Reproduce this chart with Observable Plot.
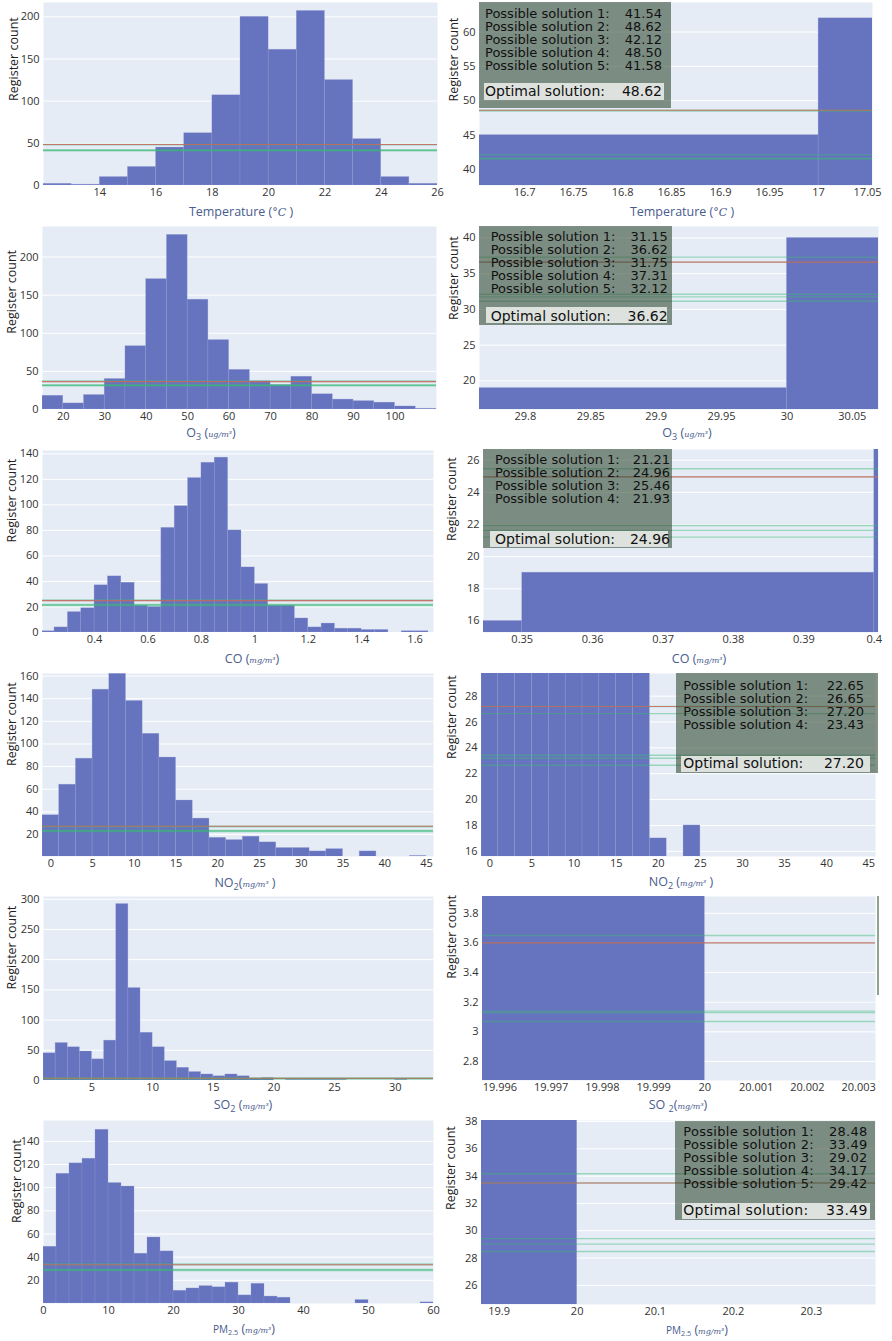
<!DOCTYPE html>
<html><head><meta charset="utf-8">
<script src="https://cdn.jsdelivr.net/npm/d3@7"></script>
<script src="https://cdn.jsdelivr.net/npm/@observablehq/plot@0.6"></script>
<style>
body{margin:0;background:#fff;}
#root{position:relative;width:892px;height:1341px;overflow:hidden;background:#fff;font-family:"Open Sans",sans-serif;}
.panel{position:absolute;}
.xtitle{position:absolute;transform:translate(-50%,-50%);white-space:nowrap;color:#485c8e;font-size:12.5px;line-height:14px;}
.xtitle sub{font-size:0.72em;vertical-align:-0.3em;line-height:0;}
.unit{font-family:"DejaVu Serif","Liberation Serif",serif;font-style:italic;font-size:8px;}
.box{position:absolute;background:rgba(58,80,58,0.62);}
.opt{position:absolute;background:rgba(236,238,235,0.88);}
.line{position:absolute;display:flex;justify-content:space-between;font-family:"DejaVu Sans",sans-serif;color:#111;white-space:pre;}
</style></head>
<body><div id="root"></div>
<script>
// ---------- DATA ----------
const yTitle = "Register count";

// Temperature (°C)
const tempBins = [12,13,14,15,16,17,18,19,20,21,22,23,24,25];
const tempBinWidth = 1;
const tempCounts = [2,1,10,22,45,62,107,200,161,207,125,55,10,2];
const tempSolutions = [41.54,48.62,42.12,48.50,41.58];
const tempOptimal = 48.62;
const tempTicksX = [14,16,18,20,22,24,26];
const tempTicksY = [0,50,100,150,200];
const tempZoomTicksX = [16.7,16.75,16.8,16.85,16.9,16.95,17,17.05];
const tempZoomTicksY = [40,45,50,55,60];

// O3 (ug/m3)
const o3Bins = [15,20,25,30,35,40,45,50,55,60,65,70,75,80,85,90,95,100,105];
const o3BinWidth = 5;
const o3Counts = [18,8,19,40,83,171,229,144,91,52,37,32,43,20,13,11,9,4,1];
const o3Solutions = [31.15,36.62,31.75,37.31,32.12];
const o3Optimal = 36.62;
const o3TicksX = [20,30,40,50,60,70,80,90,100];
const o3TicksY = [0,50,100,150,200];
const o3ZoomTicksX = [29.8,29.85,29.9,29.95,30,30.05];
const o3ZoomTicksY = [20,25,30,35,40];

// CO (mg/m3)
const coBins = [0.2,0.25,0.3,0.35,0.4,0.45,0.5,0.55,0.6,0.65,0.7,0.75,0.8,0.85,0.9,0.95,1.0,1.05,1.1,1.15,1.2,1.25,1.3,1.35,1.4,1.45,1.5,1.55,1.6];
const coBinWidth = 0.05;
const coCounts = [1,4,16,19,37,44,39,21,20,82,99,121,133,137,80,51,38,21,21,11,4,7,3,3,2,2,0,1,1];
const coSolutions = [21.21,24.96,25.46,21.93];
const coExtraLines = [21.63];
const coOptimal = 24.96;
const coTicksX = [0.4,0.6,0.8,1,1.2,1.4,1.6];
const coTicksY = [0,20,40,60,80,100,120,140];
const coZoomTicksX = [0.35,0.36,0.37,0.38,0.39,0.4];
const coZoomTicksY = [16,18,20,22,24,26];

// NO2 (mg/m3)
const no2Bins = [-1,1,3,5,7,9,11,13,15,17,19,21,23,25,27,29,31,33,35,37,39,41,43];
const no2BinWidth = 2;
const no2Counts = [37,64,87,148,162,138,109,88,50,34,17,15,18,13,8,8,5,7,0,5,0,0,1];
const no2Solutions = [22.65,26.65,27.20,23.43];
const no2ExtraLines = [23.2];
const no2Optimal = 27.20;
const no2TicksX = [0,5,10,15,20,25,30,35,40,45];
const no2TicksY = [20,40,60,80,100,120,140,160];
const no2ZoomTicksY = [16,18,20,22,24,26,28];

// SO2 (mg/m3)
const so2Bins = [1,2,3,4,5,6,7,8,9,10,11,12,13,14,15,16,17,18,19,20,21,22,23,24,25,26,27,28,29,30,31,32];
const so2BinWidth = 1;
const so2Counts = [45,62,55,48,35,66,292,153,79,55,32,21,14,10,7,10,7,3,4,0,1,1,1,1,1,0,0,0,0,1,0,0];
const so2Solutions = [3.07,3.60,3.13,3.65,3.14];
const so2Optimal = 3.60;
const so2TicksX = [5,10,15,20,25,30];
const so2TicksY = [0,50,100,150,200,250,300];
const so2ZoomTicksX = [19.996,19.997,19.998,19.999,20,20.001,20.002,20.003];
const so2ZoomTicksY = [2.8,3,3.2,3.4,3.6,3.8];

// PM2.5 (mg/m3)
const pmBins = [0,2,4,6,8,10,12,14,16,18,20,22,24,26,28,30,32,34,36,38,40,42,44,46,48,50,52,54,56,58];
const pmBinWidth = 2;
const pmCounts = [49,112,121,125,150,104,101,43,57,45,11,13,15,14,18,7,17,6,5,0,0,0,0,0,3,0,0,0,0,1];
const pmSolutions = [28.48,33.49,29.02,34.17,29.42];
const pmOptimal = 33.49;
const pmTicksX = [0,10,20,30,40,50,60];
const pmTicksY = [20,40,60,80,100,120,140];
const pmZoomTicksX = [19.9,20,20.1,20.2,20.3];
const pmZoomTicksY = [26,28,30,32,34,36,38];

// ---------- LAYOUT ----------
const ROW_H = 222, COL_W = 446;
const panels = [
  {row:0,col:0,bins:tempBins,w:tempBinWidth,counts:tempCounts,lines:tempSolutions,opt:tempOptimal,frame:[43,2,437,185],xd:[12,26],yd:[0,217],xt:tempTicksX,yt:tempTicksY,yl:[-29.7,7]},
  {row:0,col:1,bins:tempBins,w:tempBinWidth,counts:tempCounts,lines:tempSolutions,opt:tempOptimal,frame:[479,2,872,185],xd:[16.654,17.055],yd:[37.66,64.3],xt:tempZoomTicksX,yt:tempZoomTicksY,yl:[-25.7,7.5]},
  {row:1,col:0,bins:o3Bins,w:o3BinWidth,counts:o3Counts,lines:o3Solutions,opt:o3Optimal,frame:[42,226,436,409],xd:[15,110],yd:[0,240],xt:o3TicksX,yt:o3TicksY,yl:[-30.3,15.7]},
  {row:1,col:1,bins:o3Bins,w:o3BinWidth,counts:o3Counts,lines:o3Solutions,opt:o3Optimal,frame:[479,226,878,409],xd:[29.765,30.07],yd:[16,41.6],xt:o3ZoomTicksX,yt:o3ZoomTicksY,yl:[-25.7,2]},
  {row:2,col:0,bins:coBins,w:coBinWidth,counts:coCounts,lines:coSolutions.concat(coExtraLines),opt:coOptimal,frame:[42,450,433,632],xd:[0.205,1.669],yd:[0,142.6],xt:coTicksX,yt:coTicksY,yl:[-30.7,1]},
  {row:2,col:1,bins:coBins,w:coBinWidth,counts:coCounts,lines:coSolutions.concat(coExtraLines),opt:coOptimal,frame:[483,449,878,632],xd:[0.3445,0.4006],yd:[15.28,26.66],xt:coZoomTicksX,yt:coZoomTicksY,yl:[-31.7,0]},
  {row:3,col:0,bins:no2Bins,w:no2BinWidth,counts:no2Counts,lines:no2Solutions.concat(no2ExtraLines),opt:no2Optimal,frame:[42,673,433,856],xd:[-1,45.84],yd:[0.5,162.3],xt:no2TicksX,yt:no2TicksY,yl:[-30.3,1]},
  {row:3,col:1,bins:no2Bins,w:no2BinWidth,counts:no2Counts,lines:no2Solutions.concat(no2ExtraLines),opt:no2Optimal,frame:[481,673,875,856],xd:[-1,45.8],yd:[15.6,29.75],xt:no2TicksX,yt:no2ZoomTicksY,yl:[-29.3,-6]},
  {row:4,col:0,bins:so2Bins,w:so2BinWidth,counts:so2Counts,lines:so2Solutions,opt:so2Optimal,frame:[43,896,433,1080],xd:[1,33.16],yd:[0,304.5],xt:so2TicksX,yt:so2TicksY,yl:[-31.3,1]},
  {row:4,col:1,bins:so2Bins,w:so2BinWidth,counts:so2Counts,lines:so2Solutions,opt:so2Optimal,frame:[482,896,875,1080],xd:[19.99566,20.00333],yd:[2.672,3.913],xt:so2ZoomTicksX,yt:so2ZoomTicksY,yl:[-30.3,-9.7]},
  {row:5,col:0,bins:pmBins,w:pmBinWidth,counts:pmCounts,lines:pmSolutions,opt:pmOptimal,frame:[43,1120,433,1303],xd:[0,60],yd:[0,158],xt:pmTicksX,yt:pmTicksY,yl:[-26.3,11]},
  {row:5,col:1,bins:pmBins,w:pmBinWidth,counts:pmCounts,lines:pmSolutions,opt:pmOptimal,frame:[481,1120,875,1304],xd:[19.8775,20.382],yd:[24.6,38.07],xt:pmZoomTicksX,yt:pmZoomTicksY,yl:[-30.5,-2.5]}
];

const xTitles = [
  {x:241,y:212,html:'Temperature (<span class="unit" style="font-size:11px">°C</span> )'},
  {x:682,y:212,html:'Temperature (<span class="unit" style="font-size:11px">°C</span> )'},
  {x:211,y:434,html:'O<sub>3</sub> (<span class="unit">ug/m³</span>)'},
  {x:687,y:434,html:'O<sub>3</sub> (<span class="unit">ug/m³</span>)'},
  {x:252,y:660,html:'CO (<span class="unit">mg/m³</span>)'},
  {x:699,y:660,html:'CO (<span class="unit">mg/m³</span>)'},
  {x:245,y:884,html:'NO<sub>2</sub>(<span class="unit">mg/m³</span> )'},
  {x:681,y:883,html:'NO<sub>2</sub> (<span class="unit">mg/m³</span> )'},
  {x:243,y:1106,html:'SO<sub>2</sub> (<span class="unit">mg/m³</span>)'},
  {x:678,y:1106,html:'SO <sub>2</sub>(<span class="unit">mg/m³</span>)'},
  {x:244,y:1330,html:'<span style="font-size:10px">PM<sub>2.5</sub></span> (<span class="unit">mg/m³</span>)'},
  {x:697,y:1331,html:'<span style="font-size:10px">PM<sub>2.5</sub></span> (<span class="unit">mg/m³</span>)'}
];

const boxes = [
  {sol:tempSolutions,opt:tempOptimal,box:[479,2,671,108],row0:14,textLeft:485,valRight:662,optBox:[484,83,664,100],optY:91.7,fs:13,ls:0},
  {sol:o3Solutions,opt:o3Optimal,box:[479,226,672,325],row0:237,textLeft:490.7,valRight:667.7,optBox:[485.7,307,666.7,323],optY:316.3,fs:13,ls:0},
  {sol:coSolutions,opt:coOptimal,box:[483,449,672,548],row0:460.7,textLeft:495,valRight:670,optBox:[490,531.3,668.3,546.7],optY:539.7,fs:13,ls:0},
  {sol:no2Solutions,opt:no2Optimal,box:[676,673,878,773],row0:686,textLeft:683.3,valRight:864,optBox:[680.7,756,870,772],optY:763.7,fs:13,ls:0},
  {sol:pmSolutions,opt:pmOptimal,box:[675,1121,875,1220],row0:1132.7,textLeft:683.3,valRight:867.7,optBox:[682.3,1202.7,870,1219.3],optY:1210,fs:13,ls:0.3}
];

// ---------- DRAW ----------
const root = document.getElementById("root");
const fmt = d => String(d);

for (const p of panels) {
  const colX = p.col * COL_W, rowY = p.row * ROW_H;
  const [fl, ft, fr, fb] = p.frame;
  const bars = p.bins.map((b, i) => ({x1: b, x2: b + p.w, y: p.counts[i]}));
  const svg = Plot.plot({
    width: COL_W, height: ROW_H,
    marginLeft: fl - colX, marginRight: colX + COL_W - fr,
    marginTop: ft - rowY, marginBottom: rowY + ROW_H - fb,
    style: {background: "transparent", fontFamily: "'Open Sans', sans-serif", fontSize: "11px", color: "#333", overflow: "visible"},
    x: {domain: p.xd},
    y: {domain: p.yd},
    marks: [
      Plot.frame({fill: "#e5ecf6", stroke: "none"}),
      Plot.gridY(p.yt, {stroke: "#ffffff", strokeOpacity: 1, strokeWidth: 1}),
      Plot.rect(bars, {x1: "x1", x2: "x2", y1: 0, y2: "y", fill: "#6673be", stroke: "#98a0d8", strokeOpacity: 0.45, strokeWidth: 0.6, clip: true}),
      Plot.ruleY(p.lines, {stroke: "#3cba78", strokeOpacity: 0.45, strokeWidth: 1.4, clip: true}),
      Plot.ruleY([p.opt], {stroke: "#e05a5a", strokeOpacity: 0.75, strokeWidth: 1.1, clip: true}),
      Plot.axisX(p.xt, {tickSize: 0, tickPadding: 3, label: null, fontSize: 11, tickFormat: fmt}),
      Plot.axisY(p.yt, {tickSize: 0, tickPadding: 4, label: null, fontSize: 11, tickFormat: fmt}),
      Plot.text([yTitle], {text: d => d, frameAnchor: "left", rotate: -90, dx: p.yl[0], dy: p.yl[1], fontSize: 12.5, fill: "#222"})
    ]
  });
  const wrap = document.createElement("div");
  wrap.className = "panel";
  wrap.style.left = colX + "px";
  wrap.style.top = rowY + "px";
  wrap.appendChild(svg);
  root.appendChild(wrap);
}

for (const t of xTitles) {
  const d = document.createElement("div");
  d.className = "xtitle";
  d.style.left = t.x + "px";
  d.style.top = t.y + "px";
  d.innerHTML = t.html;
  root.appendChild(d);
}

function addLine(label, value, y, b, fs, ls) {
  const lh = 12.5;
  const d = document.createElement("div");
  d.className = "line";
  d.style.left = b.textLeft + "px";
  d.style.width = (b.valRight - b.textLeft) + "px";
  d.style.top = (y - lh / 2) + "px";
  d.style.height = lh + "px";
  d.style.fontSize = fs + "px";
  d.style.lineHeight = lh + "px";
  d.style.letterSpacing = ls + "px";
  const a = document.createElement("span"); a.textContent = label;
  const v = document.createElement("span"); v.textContent = value.toFixed(2);
  d.appendChild(a); d.appendChild(v);
  root.appendChild(d);
}

for (const b of boxes) {
  const bx = document.createElement("div");
  bx.className = "box";
  bx.style.left = b.box[0] + "px"; bx.style.top = b.box[1] + "px";
  bx.style.width = (b.box[2] - b.box[0]) + "px"; bx.style.height = (b.box[3] - b.box[1]) + "px";
  root.appendChild(bx);
  b.sol.forEach((s, i) => addLine("Possible solution " + (i + 1) + ":", s, b.row0 + i * 13, b, b.fs, b.ls));
  const ob = document.createElement("div");
  ob.className = "opt";
  ob.style.left = b.optBox[0] + "px"; ob.style.top = b.optBox[1] + "px";
  ob.style.width = (b.optBox[2] - b.optBox[0]) + "px"; ob.style.height = (b.optBox[3] - b.optBox[1]) + "px";
  root.appendChild(ob);
  addLine("Optimal solution:", b.opt, b.optY, b, b.fs + 1, b.ls);
}

// edge of an off-panel annotation box in the SO2 zoom panel
const edge = document.createElement("div");
edge.style.cssText = "position:absolute;left:877px;top:896px;width:1.5px;height:99px;background:#8fa592;";
root.appendChild(edge);
</script>
</body></html>
